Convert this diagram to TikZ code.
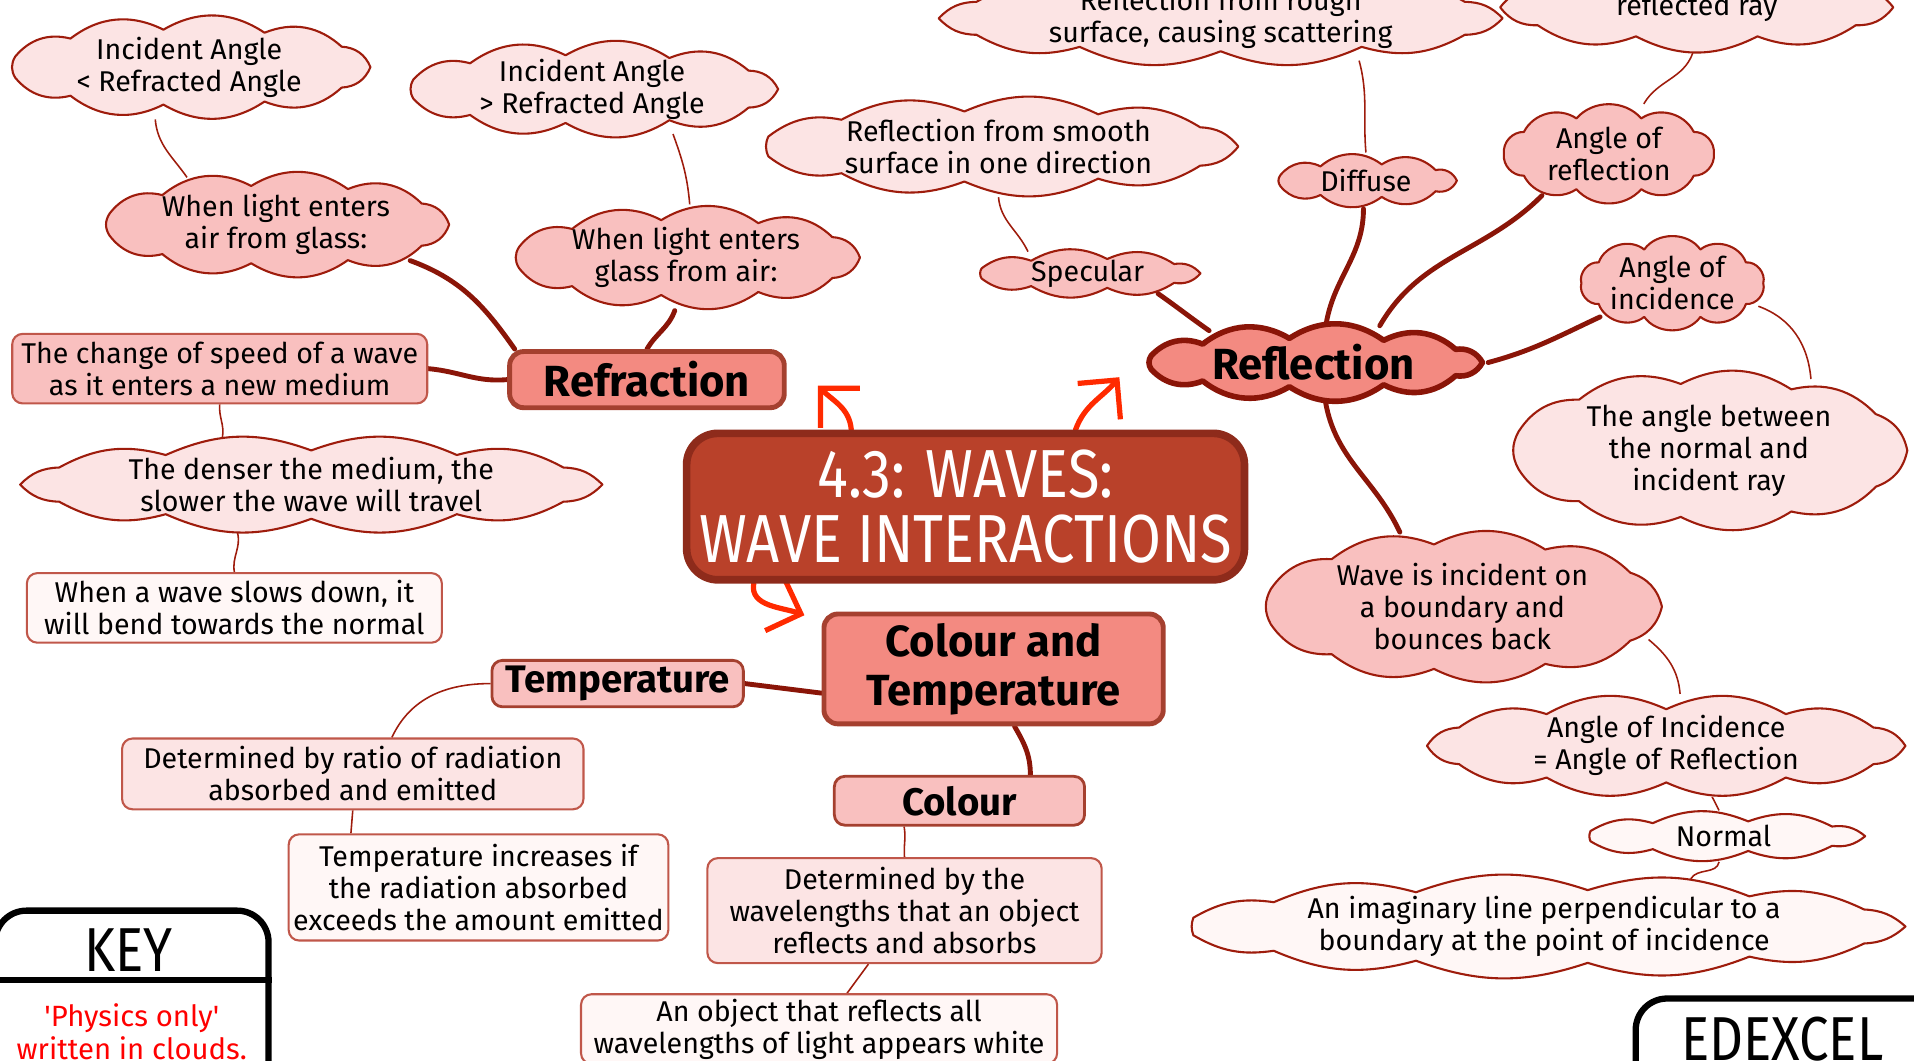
\documentclass[tikz,border=0pt]{standalone}
\usepackage{fontspec}
\setmainfont{Fira Sans}
\newfontfamily\titlefont[FakeStretch=0.85]{Fira Sans}
\usetikzlibrary{shapes.geometric,arrows.meta}
\pgfdeclarelayer{links}
\pgfdeclarelayer{clouds}
\pgfsetlayers{links,clouds,main}

\definecolor{centrefill}{HTML}{B9412A}
\definecolor{centreline}{HTML}{8E2B1B}
\definecolor{salmon}{HTML}{F38A81}
\definecolor{topicline}{HTML}{A5402F}
\definecolor{midpink}{HTML}{F9C0BF}
\definecolor{lightpink}{HTML}{FCE4E4}
\definecolor{palepink}{HTML}{FFF7F6}
\definecolor{cloudline}{HTML}{9E1C0C}
\definecolor{boxline}{HTML}{C0574A}
\definecolor{linkdark}{HTML}{8A1508}
\definecolor{arrowred}{HTML}{FF2A00}
\definecolor{keyred}{HTML}{FF0000}

% puffed outline round a cloud node: node, width, height, puffs, look
\newcommand\cloudpath[5]{%
  \pgfmathsetmacro\ca{#2/2-4}%
  \pgfmathsetmacro\cs{min(12,#3/5)}%
  \pgfmathsetmacro\cb{#3/2-\cs}%
  \pgfmathsetmacro\cbend{2*atan(2*\cs/(2*\ca*sin(180/#4)))}%
  \path[cloudedge,#5,shift={(#1.center)}] (\ca,0)
    \foreach \k in {1,...,#4}{ to[bend left=\cbend] ({\ca*cos(\k*360/#4)},{\cb*sin(\k*360/#4)}) } -- cycle;}

\begin{document}
\begin{tikzpicture}[x=0.35pt,y=-0.35pt,
            sz/.style 2 args={minimum width=#1*0.35pt,minimum height=#2*0.35pt},
            txt/.style={font=\fontsize{8.2}{9.2}\selectfont,align=center,text=black},
            cl/.style={ellipse,inner sep=0pt,txt},
            cloudedge/.style={draw=cloudline,line width=0.6pt,line join=round},
            box/.style={rectangle,rounded corners=3pt,draw=boxline,line width=0.6pt,inner sep=0pt,txt},
            lite/.style={fill=lightpink},
            mid/.style={fill=midpink},
            pale/.style={fill=palepink},
            topic/.style={rectangle,rounded corners=4pt,draw=topicline,line width=1.4pt,fill=salmon,
              inner sep=0pt,align=center,font=\fontsize{12.5}{14}\selectfont\bfseries},
            subtopic/.style={box,mid,draw=topicline,line width=0.8pt,font=\fontsize{11}{12}\selectfont\bfseries},
            centre/.style={rectangle,rounded corners=9pt,draw=centreline,line width=2.2pt,fill=centrefill,
              inner sep=0pt,align=center,text=white,font=\titlefont\fontsize{19.5}{18.6}\selectfont},
            frame/.style={rectangle,rounded corners=9pt,draw=black,line width=1.8pt,inner sep=0pt},
            lnk/.style={draw=cloudline,line width=0.45pt},
            branch/.style={draw=linkdark,line width=1.4pt,line cap=round},
            redarr/.style={draw=arrowred,line width=1.5pt,line cap=round,
              -{Straight Barb[length=8pt,width=16pt,line width=1.5pt]}}]

            \useasboundingbox (0,0) rectangle (1568,869);

            % centre of the map
            \node[centre,sz={457}{120}] (title) at (791,415) {4.3: WAVES:\\WAVE INTERACTIONS};

            % refraction
            \node[topic,sz={225}{46}] (refr) at (530,311) {Refraction};
            \node[cl,sz={305}{86}] (iltr) at (155,55) {Incident Angle\\< Refracted Angle};
            \node[cl,sz={313}{80}] (igtr) at (485,73) {Incident Angle\\> Refracted Angle};
            \node[cl,sz={292}{88}] (airglass) at (226,184) {When light enters\\air from glass:};
            \node[cl,sz={293}{86}] (glassair) at (562,211) {When light enters\\glass from air:};
            \node[box,mid,sz={340}{57}] (speed) at (180,302) {The change of speed of a wave\\as it enters a new medium};
            \node[cl,sz={485}{80}] (denser) at (255,397) {The denser the medium, the\\slower the wave will travel};
            \node[box,pale,sz={340}{57}] (bend) at (192,498) {When a wave slows down, it\\will bend towards the normal};

            % colour and temperature
            \node[topic,sz={278}{90}] (coltemp) at (814,548) {Colour and\\Temperature};
            \node[subtopic,sz={206}{38}] (temp) at (506,560) {Temperature};
            \node[box,lite,sz={378}{58}] (ratio) at (289,634) {Determined by ratio of radiation\\absorbed and emitted};
            \node[box,pale,sz={311}{87}] (incr) at (392,727) {Temperature increases if\\the radiation absorbed\\exceeds the amount emitted};
            \node[subtopic,sz={205}{40}] (colour) at (786,656) {Colour};
            \node[box,lite,sz={323}{86}] (wavel) at (741,746) {Determined by the\\wavelengths that an object\\reflects and absorbs};
            \node[box,pale,sz={390}{57}] (white) at (671,843) {An object that reflects all\\wavelengths of light appears white};

            % reflection
            \node[cl,sz={285}{64},font=\fontsize{12.5}{14}\selectfont\bfseries] (refl) at (1076,297) {Reflection};
            \node[cl,sz={470}{78}] (rough) at (1000,15) {Reflection from rough\\surface, causing scattering};
            \node[cl,sz={330}{74}] (reflray) at (1390,6) {reflected ray};
            \node[cl,sz={401}{82}] (smooth) at (818,120) {Reflection from smooth\\surface in one direction};
            \node[cl,sz={157}{45}] (diffuse) at (1119,148) {Diffuse};
            \node[cl,sz={193}{40}] (specular) at (891,224) {Specular};
            \node[cl,sz={180}{85}] (angrefl) at (1318,126) {Angle of\\reflection};
            \node[cl,sz={157}{82}] (anginc) at (1370,232) {Angle of\\incidence};
            \node[cl,sz={333}{134}] (between) at (1400,369) {The angle between\\the normal and\\incident ray};
            \node[cl,sz={335}{127}] (bounce) at (1198,497) {Wave is incident on\\a boundary and\\bounces back};
            \node[cl,sz={400}{84}] (equal) at (1365,611) {Angle of Incidence\\= Angle of Reflection};
            \node[cl,sz={240}{41}] (normal) at (1412,685) {Normal};
            \node[cl,sz={600}{84}] (imag) at (1265,759) {An imaginary line perpendicular to a\\boundary at the point of incidence};

            \begin{pgfonlayer}{clouds}
            \cloudpath{iltr}{305}{86}{11}{lite}
            \cloudpath{igtr}{313}{80}{11}{lite}
            \cloudpath{airglass}{292}{88}{11}{mid}
            \cloudpath{glassair}{293}{86}{11}{mid}
            \cloudpath{denser}{485}{80}{12}{lite}
            \cloudpath{refl}{285}{64}{11}{fill=salmon,draw=linkdark,line width=1.6pt}
            \cloudpath{rough}{470}{78}{12}{lite}
            \cloudpath{reflray}{330}{74}{10}{lite}
            \cloudpath{smooth}{401}{82}{11}{lite}
            \cloudpath{diffuse}{157}{45}{9}{mid}
            \cloudpath{specular}{193}{40}{9}{mid}
            \cloudpath{angrefl}{180}{85}{10}{mid}
            \cloudpath{anginc}{157}{82}{10}{mid}
            \cloudpath{between}{333}{134}{11}{lite}
            \cloudpath{bounce}{335}{127}{11}{mid}
            \cloudpath{equal}{400}{84}{12}{lite}
            \cloudpath{normal}{240}{41}{9}{pale}
            \cloudpath{imag}{600}{84}{13}{pale}
            \end{pgfonlayer}

            % key and exam board
            \node[frame,sz={224}{160}] (key) at (108,826) {};
            \draw[line width=1.6pt] (key.west |- 0,803) -- (key.east |- 0,803);
            \node[font=\titlefont\fontsize{17.8}{18}\selectfont] (keytitle) at (105,778) {KEY};
            \node[txt,text=keyred,font=\fontsize{8.4}{9.4}\selectfont] (keytext) at (108,845)
              {\textquotesingle Physics only\textquotesingle\\written in clouds.};
            \node[frame,sz={290}{90}] (board) at (1485,863) {};
            \node[font=\titlefont\fontsize{17.8}{18}\selectfont] (boardname) at (1460,851) {EDEXCEL};

            % free ends of the red arrows
            \coordinate (tipA) at (670,316);
            \coordinate (tipB) at (917,309);
            \coordinate (tipC) at (659,504);

            \begin{pgfonlayer}{links}
            \draw[redarr] (title.146) to[out=95,in=-45] (tipA);
            \draw[redarr] (title.35.5) to[out=70,in=-130] (tipB);
            \draw[redarr] (title.200) to[out=-100,in=160] (tipC);

            \draw[branch] (airglass.345) to[out=-20,in=125] (refr.167);
            \draw[branch] (glassair.258) to[out=-110,in=60] (refr.north);
            \draw[branch] (speed.east) to[out=-5,in=185] (refr.west);
            \draw[lnk] (iltr.237) to[out=-85,in=125] (airglass.152);
            \draw[lnk] (igtr.331) to[out=-70,in=95] (glassair.86);
            \draw[lnk] (speed.south) to[out=-95,in=80] (denser.152);
            \draw[lnk] (denser.213) to[out=-75,in=100] (bend.north);

            \draw[branch] (temp.east) -- (coltemp.188);
            \draw[branch] (coltemp.290) to[out=-60,in=90] (colour.20);
            \draw[lnk] (temp.west) to[out=180,in=65] (ratio.43);
            \draw[lnk] (ratio.south) -- (incr.157);
            \draw[lnk] (colour.205) to[out=-80,in=95] (wavel.north);
            \draw[lnk] (wavel.236) -- (white.52);

            \draw[branch] (specular.344) to[out=-35,in=145] (refl.163);
            \draw[branch] (diffuse.265) to[out=-90,in=80] (refl.72);
            \draw[branch] (angrefl.212) to[out=225,in=60] (refl.29);
            \draw[branch] (anginc.205) to[out=205,in=15] (refl.east);
            \draw[branch] (refl.287) to[out=-80,in=115] (bounce.130);
            \draw[lnk] (rough.343) to[out=-75,in=95] (diffuse.north);
            \draw[lnk] (smooth.south) to[out=-85,in=115] (specular.160);
            \draw[lnk] (reflray.265) to[out=-110,in=60] (angrefl.55);
            \draw[lnk] (anginc.345) to[out=-20,in=95] (between.35);
            \draw[lnk] (bounce.350) to[out=-40,in=95] (equal.75);
            \draw[lnk] (equal.312) -- (normal.100);
            \draw[lnk] (normal.260) to[out=-100,in=60] (imag.18);
            \end{pgfonlayer}
\end{tikzpicture}
\end{document}
